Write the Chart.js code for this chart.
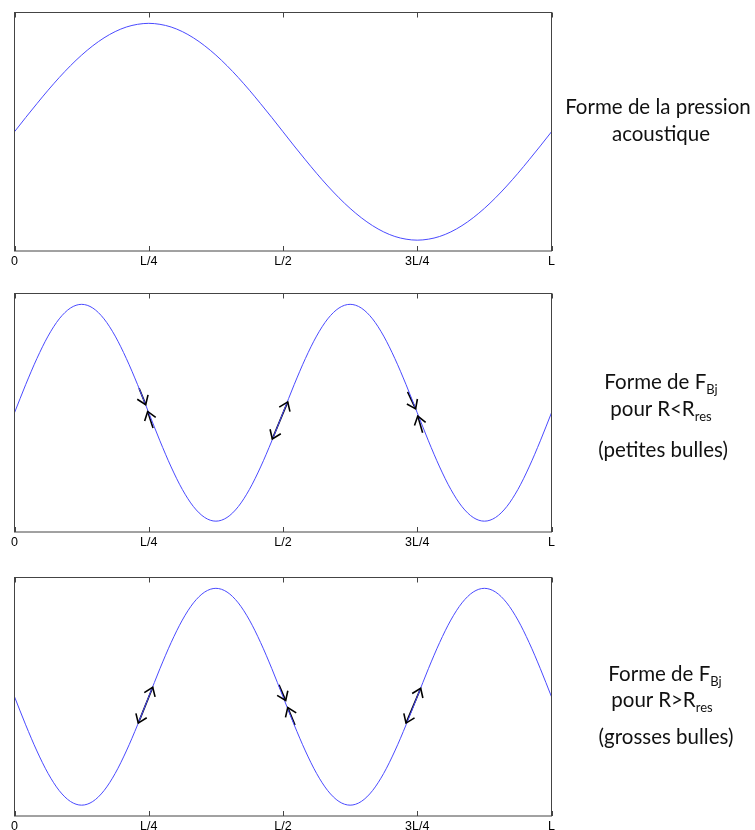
<!DOCTYPE html>
<html>
<head>
<meta charset="utf-8">
<script src="https://cdn.jsdelivr.net/npm/chart.js@4"></script>
<style>
  html, body { margin:0; padding:0; background:#fff; width:755px; height:830px; overflow:hidden; }
  .panel { position:absolute; left:0; width:755px; height:281px; }
  .txt { position:absolute; width:220px; text-align:center; font-family:'Lato', sans-serif; font-size:20.5px; line-height:20px; color:#111; white-space:nowrap; }
  .txt sub { font-size:13px; vertical-align:-5px; line-height:0; }
</style>
</head>
<body>
<canvas id="c1" class="panel" width="755" height="281" style="top:0px"></canvas>
<canvas id="c2" class="panel" width="755" height="281" style="top:281px"></canvas>
<canvas id="c3" class="panel" width="755" height="281" style="top:565px"></canvas>

<div class="txt" style="left:548px; top:96px;">Forme de la pression</div>
<div class="txt" style="left:551px; top:123px;">acoustique</div>

<div class="txt" style="left:551px; top:371px;">Forme de F<sub>Bj</sub></div>
<div class="txt" style="left:551px; top:398px;">pour R&lt;R<sub>res</sub></div>
<div class="txt" style="left:553px; top:439px;">(petites bulles)</div>

<div class="txt" style="left:555px; top:663px;">Forme de F<sub>Bj</sub></div>
<div class="txt" style="left:552px; top:689px;">pour R&gt;R<sub>res</sub></div>
<div class="txt" style="left:556px; top:726px;">(grosses bulles)</div>

<script>
// Sample positions along the tube (fraction of L)
const xPos = [0, 0.0208, 0.0417, 0.0625, 0.0833, 0.1042, 0.125, 0.1458, 0.1667, 0.1875, 0.2083, 0.2292,
  0.25, 0.2708, 0.2917, 0.3125, 0.3333, 0.3542, 0.375, 0.3958, 0.4167, 0.4375, 0.4583, 0.4792,
  0.5, 0.5208, 0.5417, 0.5625, 0.5833, 0.6042, 0.625, 0.6458, 0.6667, 0.6875, 0.7083, 0.7292,
  0.75, 0.7708, 0.7917, 0.8125, 0.8333, 0.8542, 0.875, 0.8958, 0.9167, 0.9375, 0.9583, 0.9792, 1];

// Acoustic pressure shape (panel 1)
const pressure = [0, 0.131, 0.259, 0.383, 0.5, 0.609, 0.707, 0.793, 0.866, 0.924, 0.966, 0.991,
  1, 0.991, 0.966, 0.924, 0.866, 0.793, 0.707, 0.609, 0.5, 0.383, 0.259, 0.131,
  0, -0.131, -0.259, -0.383, -0.5, -0.609, -0.707, -0.793, -0.866, -0.924, -0.966, -0.991,
  -1, -0.991, -0.966, -0.924, -0.866, -0.793, -0.707, -0.609, -0.5, -0.383, -0.259, -0.131, 0];

// F_Bj for R < R_res (panel 2)
const forceSmall = [0, 0.259, 0.5, 0.707, 0.866, 0.966, 1, 0.966, 0.866, 0.707, 0.5, 0.259,
  0, -0.259, -0.5, -0.707, -0.866, -0.966, -1, -0.966, -0.866, -0.707, -0.5, -0.259,
  0, 0.259, 0.5, 0.707, 0.866, 0.966, 1, 0.966, 0.866, 0.707, 0.5, 0.259,
  0, -0.259, -0.5, -0.707, -0.866, -0.966, -1, -0.966, -0.866, -0.707, -0.5, -0.259, 0];

// F_Bj for R > R_res (panel 3)
const forceLarge = [0, -0.259, -0.5, -0.707, -0.866, -0.966, -1, -0.966, -0.866, -0.707, -0.5, -0.259,
  0, 0.259, 0.5, 0.707, 0.866, 0.966, 1, 0.966, 0.866, 0.707, 0.5, 0.259,
  0, -0.259, -0.5, -0.707, -0.866, -0.966, -1, -0.966, -0.866, -0.707, -0.5, -0.259,
  0, 0.259, 0.5, 0.707, 0.866, 0.966, 1, 0.966, 0.866, 0.707, 0.5, 0.259, 0];

const xTickValues = [0, 0.25, 0.5, 0.75, 1];
const xTickLabels = ['0', 'L/4', 'L/2', '3L/4', 'L'];

// Arrows: [xStart, yStart, xEnd, yEnd]; single arrows have a head at the end,
// double arrows have heads at both ends.
const arrowsSmall = [
  [0.232, 0.226, 0.2443, 0.075],
  [0.258, -0.141, 0.248, 0.012],
  [0.732, 0.192, 0.747, 0.036],
  [0.760, -0.184, 0.751, -0.031]
];
const doubleArrowsSmall = [
  [0.4801, -0.242, 0.5088, 0.10]
];
const arrowsLarge = [
  [0.4925, 0.11, 0.505, -0.035],
  [0.5223, -0.26, 0.5088, -0.10]
];
const doubleArrowsLarge = [
  [0.2305, -0.243, 0.2574, 0.088],
  [0.7291, -0.243, 0.7564, 0.078]
];

const frameColor = '#444';

const decorPlugin = {
  id: 'decor',
  afterDatasetsDraw(chart, args, opts) {
    const ctx = chart.ctx;
    const a = chart.chartArea;
    const xs = chart.scales.x, ys = chart.scales.y;
    ctx.save();
    // frame
    ctx.strokeStyle = frameColor;
    ctx.lineWidth = 1;
    ctx.strokeRect(a.left, a.top, a.right - a.left, a.bottom - a.top);
    // inner tick marks on bottom and top
    xTickValues.forEach(v => {
      const px = Math.round(xs.getPixelForValue(v)) + 0.5;
      ctx.beginPath();
      ctx.moveTo(px, a.bottom); ctx.lineTo(px, a.bottom - 5);
      ctx.moveTo(px, a.top); ctx.lineTo(px, a.top + 5);
      ctx.stroke();
    });
    // arrow heads
    ctx.strokeStyle = '#000';
    ctx.lineWidth = 1.6;
    const head = (x1, y1, x2, y2) => {
      const p1x = xs.getPixelForValue(x1), p1y = ys.getPixelForValue(y1);
      const p2x = xs.getPixelForValue(x2), p2y = ys.getPixelForValue(y2);
      const ang = Math.atan2(p2y - p1y, p2x - p1x);
      const len = 10, spread = 0.62;
      ctx.beginPath();
      ctx.moveTo(p2x - len * Math.cos(ang - spread), p2y - len * Math.sin(ang - spread));
      ctx.lineTo(p2x, p2y);
      ctx.lineTo(p2x - len * Math.cos(ang + spread), p2y - len * Math.sin(ang + spread));
      ctx.stroke();
    };
    (opts.singles || []).forEach(r => head(r[0], r[1], r[2], r[3]));
    (opts.doubles || []).forEach(r => { head(r[0], r[1], r[2], r[3]); head(r[2], r[3], r[0], r[1]); });
    ctx.restore();
  }
};

function makeChart(id, values, singles, doubles) {
  const datasets = [{
    data: xPos.map((x, i) => ({ x: x, y: values[i] })),
    borderColor: '#4a4aff',
    borderWidth: 1,
    pointRadius: 0,
    cubicInterpolationMode: 'monotone',
    fill: false
  }];
  singles.concat(doubles).forEach(r => {
    datasets.push({
      data: [{ x: r[0], y: r[1] }, { x: r[2], y: r[3] }],
      borderColor: '#000',
      borderWidth: 1.6,
      pointRadius: 0,
      tension: 0,
      fill: false
    });
  });
  return new Chart(document.getElementById(id), {
    type: 'line',
    data: { datasets: datasets },
    options: {
      responsive: false,
      animation: false,
      devicePixelRatio: 1,
      layout: { padding: { left: 14.5, right: 203.5, top: 12.5, bottom: 0 } },
      plugins: {
        legend: { display: false },
        tooltip: { enabled: false },
        decor: { singles: singles, doubles: doubles }
      },
      scales: {
        x: {
          type: 'linear', min: 0, max: 1,
          afterBuildTicks: s => { s.ticks = xTickValues.map(v => ({ value: v })); },
          afterFit: s => { s.height = 30; },
          ticks: {
            callback: v => xTickLabels[xTickValues.indexOf(v)],
            font: { family: 'Liberation Sans', size: 12.5 },
            color: '#000',
            padding: 3,
            maxRotation: 0,
            autoSkip: false
          },
          grid: { display: false, drawTicks: false },
          border: { display: false }
        },
        y: { display: false, min: -1.1, max: 1.1 }
      }
    },
    plugins: [decorPlugin]
  });
}

makeChart('c1', pressure, [], []);
makeChart('c2', forceSmall, arrowsSmall, doubleArrowsSmall);
makeChart('c3', forceLarge, arrowsLarge, doubleArrowsLarge);
</script>
</body>
</html>
